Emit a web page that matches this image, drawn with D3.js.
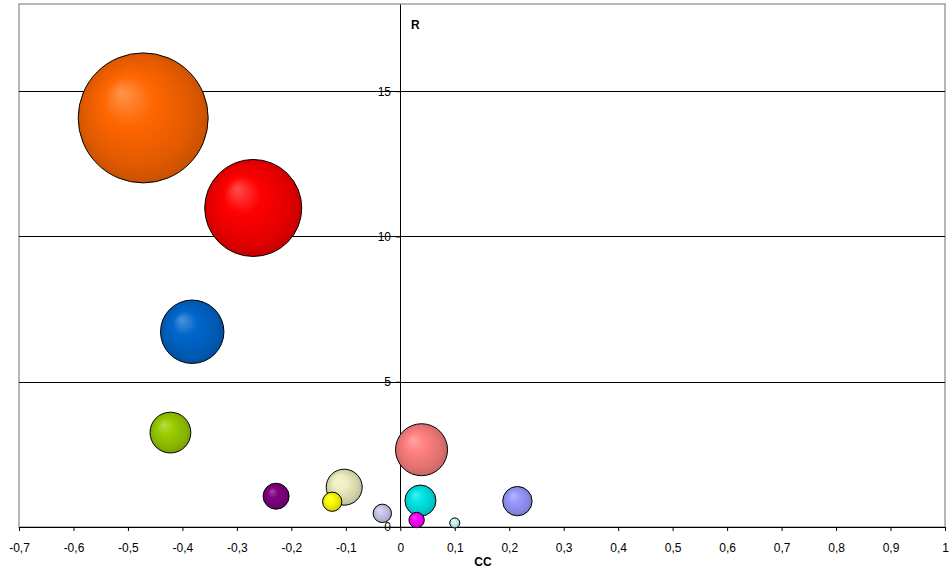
<!DOCTYPE html>
<html><head><meta charset="utf-8">
<script src="https://cdn.jsdelivr.net/npm/d3@7"></script>
<style>body{margin:0;background:#fff}svg{display:block}text{font-family:"Liberation Sans",Arial,sans-serif}</style>
</head><body><svg id="c" width="952" height="574"></svg>
<script>
const xValues = [-0.472, -0.270, -0.382, -0.422, 0.039, -0.228, -0.103, -0.125, -0.033, 0.037, 0.030, 0.100, 0.215];
const yValues = [14.08, 10.98, 6.72, 3.25, 2.66, 1.06, 1.37, 0.87, 0.47, 0.91, 0.24, 0.14, 0.89];
const sizes   = [100, 55.7, 23.8, 9.85, 16.0, 4.0, 7.67, 2.2, 2.0, 5.7, 1.4, 0.6, 5.1];
const colors  = ["#FF6600", "#FF0000", "#0066CC", "#99CC00", "#FF8080", "#800080", "#EEEEC0", "#FFFF00", "#C8C8F0", "#00E6E6", "#FF00FF", "#CCF5F5", "#9999FF"];
const xTicks = [-0.7,-0.6,-0.5,-0.4,-0.3,-0.2,-0.1,0,0.1,0.2,0.3,0.4,0.5,0.6,0.7,0.8,0.9,1];
const yTicks = [0, 5, 10, 15];

const svg = d3.select("#c");
const L = 19, R = 945, T = 4, B = 527;
const x = d3.scaleLinear().domain([-0.7, 1]).range([L, R]);
const y = d3.scaleLinear().domain([0, 18]).range([B, T]);
const r = d3.scaleSqrt().domain([0, 100]).range([0, 65]);
const fmt = v => (Math.round(v*10)/10).toString().replace(".", ",");

// plot border
svg.append("rect").attr("x", L).attr("y", T).attr("width", R-L).attr("height", B-T)
  .attr("fill", "none").attr("stroke", "#a0a0a0").attr("stroke-width", 1.5);

// gridlines
svg.append("g").selectAll("line").data(yTicks.filter(d => d > 0)).join("line")
  .attr("x1", L).attr("x2", R).attr("y1", d => Math.round(y(d))+0.5).attr("y2", d => Math.round(y(d))+0.5)
  .attr("stroke", "#000").attr("stroke-width", 1);

// x axis
const xa = svg.append("g").attr("transform", `translate(0,${B})`)
  .call(d3.axisBottom(x).tickValues(xTicks).tickFormat(fmt).tickSize(4).tickPadding(12));
xa.select(".domain").attr("stroke", "#000");
xa.selectAll("line").attr("stroke", "#000");
xa.selectAll("text").style("font-size", "12px").attr("fill", "#000");

// y axis at x=0
const ya = svg.append("g").attr("transform", `translate(${Math.round(x(0))},0)`)
  .call(d3.axisLeft(y).tickValues(yTicks).tickFormat(d3.format("d")).tickSize(4).tickPadding(5).tickSizeOuter(0));
ya.select(".domain").attr("stroke", "#000");
ya.selectAll("line").attr("stroke", "#000");
ya.selectAll("text").style("font-size", "12px").attr("fill", "#000");

// axis titles
svg.append("text").attr("x", 483).attr("y", 566).attr("text-anchor", "middle")
  .style("font-size", "12px").attr("font-weight", "bold").text("CC");
svg.append("text").attr("x", 411).attr("y", 29)
  .style("font-size", "12px").attr("font-weight", "bold").text("R");

// gradients
const defs = svg.append("defs");
colors.forEach((c, i) => {
  const base = d3.color(c);
  const g = defs.append("radialGradient").attr("id", "g"+i)
    .attr("cx", "50%").attr("cy", "50%").attr("r", "55%").attr("fx", "33%").attr("fy", "30%");
  g.append("stop").attr("offset", "0%").attr("stop-color", d3.interpolateRgb(c, "#fff")(0.3));
  g.append("stop").attr("offset", "35%").attr("stop-color", c);
  g.append("stop").attr("offset", "75%").attr("stop-color", base.darker(0.35).formatHex());
  g.append("stop").attr("offset", "100%").attr("stop-color", base.darker(0.8).formatHex());
});

// bubbles
const data = xValues.map((v, i) => ({x: v, y: yValues[i], s: sizes[i], i}));
svg.append("g").selectAll("circle").data(data).join("circle")
  .attr("cx", d => x(d.x)).attr("cy", d => y(d.y)).attr("r", d => r(d.s))
  .attr("fill", d => `url(#g${d.i})`).attr("stroke", "#000").attr("stroke-width", 1);
</script></body></html>
